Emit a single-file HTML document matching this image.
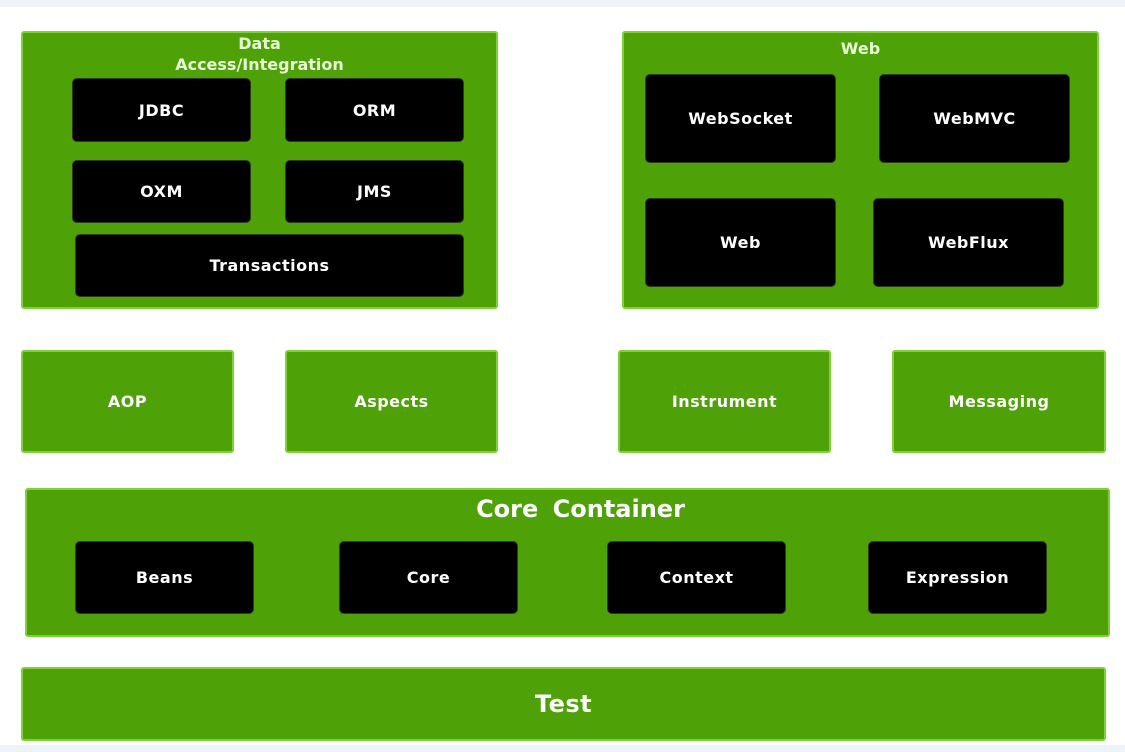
<!DOCTYPE html>
<html><head><style>
html,body{margin:0;padding:0;}
body{width:1125px;height:752px;background:#fff;position:relative;overflow:hidden;font-family:"DejaVu Sans","Liberation Sans",sans-serif;font-weight:bold;}
.strip{position:absolute;left:0;width:1125px;background:#eef2f9;}
.g{position:absolute;background:#4ea106;border:2px solid #7fd13a;border-radius:3px;box-sizing:border-box;color:#e8ffd8;}
.b{position:absolute;background:#000;border-radius:5px;border:1px solid #2a3a1a;box-sizing:border-box;color:#fff;font-size:16px;display:flex;align-items:center;justify-content:center;letter-spacing:0.5px;}
.c{display:flex;align-items:center;justify-content:center;font-size:16px;color:#fff;letter-spacing:0.5px;}
.t{position:absolute;left:0;right:0;text-align:center;}
</style></head><body>
<div class="strip" style="top:0;height:7px"></div>
<div class="strip" style="top:745px;height:7px"></div>

<div class="g" style="left:21px;top:31px;width:477px;height:278px">
<div class="t" style="top:0px;font-size:16px;line-height:21px">Data<br>Access/Integration</div></div>
<div class="b" style="left:72px;top:78px;width:179px;height:64px">JDBC</div>
<div class="b" style="left:285px;top:78px;width:179px;height:64px">ORM</div>
<div class="b" style="left:72px;top:160px;width:179px;height:63px">OXM</div>
<div class="b" style="left:285px;top:160px;width:179px;height:63px">JMS</div>
<div class="b" style="left:75px;top:234px;width:389px;height:63px">Transactions</div>

<div class="g" style="left:622px;top:31px;width:477px;height:278px">
<div class="t" style="top:6px;font-size:16px">Web</div></div>
<div class="b" style="left:645px;top:74px;width:191px;height:89px">WebSocket</div>
<div class="b" style="left:879px;top:74px;width:191px;height:89px">WebMVC</div>
<div class="b" style="left:645px;top:198px;width:191px;height:89px">Web</div>
<div class="b" style="left:873px;top:198px;width:191px;height:89px">WebFlux</div>

<div class="g c" style="left:21px;top:350px;width:213px;height:103px">AOP</div>
<div class="g c" style="left:285px;top:350px;width:213px;height:103px">Aspects</div>
<div class="g c" style="left:618px;top:350px;width:213px;height:103px">Instrument</div>
<div class="g c" style="left:892px;top:350px;width:214px;height:103px">Messaging</div>

<div class="g" style="left:25px;top:488px;width:1085px;height:149px">
<div class="t" style="top:5px;left:26px;font-size:24px;color:#fff;word-spacing:6px">Core Container</div></div>
<div class="b" style="left:75px;top:541px;width:179px;height:73px">Beans</div>
<div class="b" style="left:339px;top:541px;width:179px;height:73px">Core</div>
<div class="b" style="left:607px;top:541px;width:179px;height:73px">Context</div>
<div class="b" style="left:868px;top:541px;width:179px;height:73px">Expression</div>

<div class="g c" style="left:21px;top:667px;width:1085px;height:74px;font-size:24px">Test</div>
</body></html>
